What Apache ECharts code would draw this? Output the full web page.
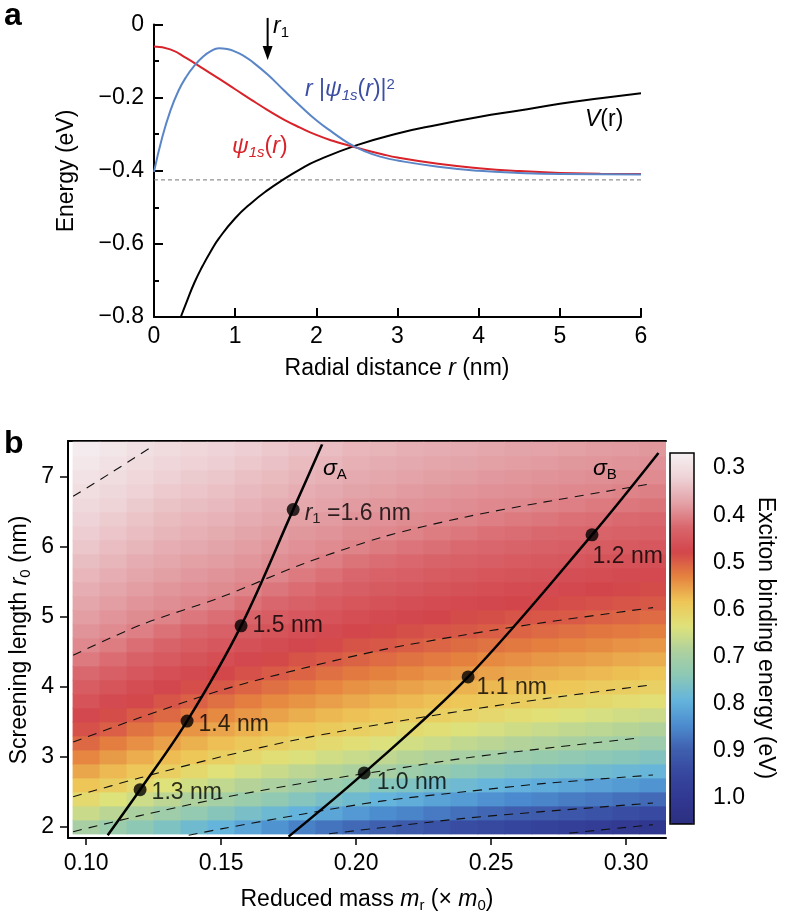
<!DOCTYPE html>
<html>
<head>
<meta charset="utf-8">
<script src="https://cdn.jsdelivr.net/npm/echarts@6/dist/echarts.min.js"></script>
<style>
  html, body { margin: 0; padding: 0; background: #fff; }
  #main { width: 786px; height: 919px; }
</style>
</head>
<body>
<div id="main"></div>
<script>
// ---------- panel a : radial curves ----------
var radialPsiSq = [[0,-0.403],[0.1,-0.31],[0.2,-0.237],[0.3,-0.182],[0.4,-0.142],[0.5,-0.112],[0.6,-0.089],[0.7,-0.073],[0.8,-0.065],[0.9,-0.067],[1.0,-0.074],[1.1,-0.085],[1.2,-0.1],[1.4,-0.137],[1.6,-0.18],[1.8,-0.222],[2.0,-0.262],[2.2,-0.295],[2.4,-0.325],[2.6,-0.347],[2.8,-0.362],[3.0,-0.372],[3.5,-0.389],[4.0,-0.4],[4.5,-0.406],[5.0,-0.409],[6.0,-0.41]];
var radialPsi = [[0,-0.06],[0.2,-0.068],[0.4,-0.092],[0.6,-0.12],[0.8,-0.148],[1.0,-0.177],[1.2,-0.206],[1.4,-0.234],[1.6,-0.26],[1.8,-0.282],[2.0,-0.302],[2.2,-0.318],[2.4,-0.331],[2.6,-0.343],[2.8,-0.354],[3.0,-0.364],[3.5,-0.381],[4.0,-0.393],[4.5,-0.401],[5.0,-0.406],[5.5,-0.408],[6.0,-0.409]];
var potentialV = [[0.33,-0.80],[0.4,-0.76],[0.5,-0.705],[0.6,-0.66],[0.7,-0.62],[0.8,-0.585],[1.0,-0.53],[1.2,-0.488],[1.4,-0.453],[1.6,-0.423],[1.8,-0.396],[2.0,-0.373],[2.5,-0.33],[3.0,-0.298],[3.5,-0.274],[4.0,-0.253],[4.5,-0.235],[5.0,-0.217],[5.5,-0.202],[6.0,-0.188]];
var levelLine = [[0,-0.425],[6,-0.425]];
var r1Mark = 1.4;

// ---------- panel b : binding energy map ----------
var massCols = [0.10,0.11,0.12,0.13,0.14,0.15,0.16,0.17,0.18,0.19,0.20,0.21,0.22,0.23,0.24,0.25,0.26,0.27,0.28,0.29,0.30,0.31];
var r0Rows = [2.0,2.2,2.4,2.6,2.8,3.0,3.2,3.4,3.6,3.8,4.0,4.2,4.4,4.6,4.8,5.0,5.2,5.4,5.6,5.8,6.0,6.2,6.4,6.6,6.8,7.0,7.2,7.4];
// one list per mass column, values from r0 = 2.0 up to 7.4
var energyCols = [
  [0.70,0.66,0.62,0.585,0.56,0.535,0.51,0.49,0.474,0.458,0.442,0.426,0.41,0.397,0.388,0.379,0.371,0.362,0.353,0.345,0.336,0.328,0.319,0.31,0.302,0.294,0.286,0.278],
  [0.718,0.675,0.637,0.599,0.575,0.551,0.527,0.502,0.486,0.47,0.455,0.439,0.423,0.408,0.396,0.387,0.379,0.371,0.362,0.354,0.346,0.337,0.329,0.321,0.312,0.304,0.296,0.288],
  [0.739,0.693,0.656,0.619,0.588,0.565,0.542,0.519,0.497,0.482,0.467,0.452,0.436,0.421,0.406,0.395,0.387,0.379,0.371,0.363,0.354,0.346,0.338,0.33,0.322,0.314,0.306,0.298],
  [0.758,0.712,0.673,0.636,0.60,0.578,0.555,0.533,0.51,0.492,0.477,0.462,0.447,0.432,0.417,0.402,0.393,0.386,0.378,0.37,0.362,0.354,0.347,0.339,0.331,0.323,0.315,0.307],
  [0.777,0.73,0.688,0.653,0.618,0.589,0.568,0.546,0.525,0.503,0.487,0.472,0.457,0.443,0.428,0.413,0.399,0.391,0.383,0.376,0.368,0.36,0.353,0.345,0.337,0.33,0.322,0.314],
  [0.793,0.748,0.702,0.668,0.634,0.60,0.579,0.558,0.537,0.516,0.496,0.481,0.466,0.451,0.436,0.421,0.406,0.395,0.388,0.38,0.373,0.365,0.357,0.35,0.342,0.335,0.327,0.319],
  [0.814,0.764,0.718,0.681,0.648,0.616,0.59,0.569,0.548,0.527,0.506,0.49,0.475,0.461,0.446,0.431,0.417,0.402,0.394,0.386,0.379,0.372,0.364,0.357,0.349,0.342,0.334,0.327],
  [0.837,0.78,0.734,0.692,0.66,0.629,0.598,0.578,0.557,0.537,0.516,0.497,0.483,0.469,0.456,0.442,0.428,0.414,0.40,0.393,0.385,0.378,0.37,0.363,0.356,0.348,0.341,0.333],
  [0.858,0.795,0.75,0.705,0.672,0.641,0.609,0.586,0.566,0.546,0.526,0.506,0.491,0.477,0.464,0.45,0.437,0.423,0.41,0.398,0.391,0.384,0.377,0.369,0.362,0.355,0.348,0.341],
  [0.873,0.812,0.764,0.718,0.682,0.651,0.62,0.593,0.574,0.554,0.535,0.516,0.497,0.484,0.471,0.458,0.445,0.432,0.419,0.406,0.396,0.389,0.382,0.375,0.368,0.36,0.353,0.346],
  [0.886,0.829,0.777,0.732,0.691,0.661,0.63,0.60,0.581,0.562,0.543,0.524,0.505,0.491,0.478,0.466,0.453,0.441,0.428,0.416,0.403,0.395,0.388,0.381,0.374,0.367,0.36,0.353],
  [0.897,0.845,0.793,0.747,0.70,0.67,0.64,0.61,0.588,0.569,0.55,0.531,0.512,0.496,0.483,0.471,0.459,0.446,0.434,0.422,0.409,0.398,0.391,0.384,0.377,0.37,0.363,0.356],
  [0.91,0.855,0.803,0.758,0.713,0.679,0.65,0.621,0.594,0.575,0.557,0.538,0.519,0.50,0.488,0.476,0.464,0.452,0.439,0.427,0.415,0.403,0.395,0.388,0.381,0.375,0.368,0.361],
  [0.923,0.867,0.815,0.77,0.726,0.688,0.659,0.629,0.60,0.581,0.563,0.544,0.525,0.507,0.492,0.48,0.468,0.456,0.444,0.432,0.42,0.408,0.398,0.391,0.384,0.378,0.371,0.364],
  [0.936,0.879,0.826,0.779,0.738,0.697,0.668,0.638,0.609,0.587,0.569,0.55,0.531,0.513,0.496,0.485,0.473,0.461,0.449,0.437,0.425,0.413,0.401,0.394,0.387,0.38,0.373,0.367],
  [0.947,0.89,0.838,0.79,0.748,0.706,0.675,0.646,0.617,0.593,0.574,0.556,0.537,0.519,0.50,0.488,0.476,0.465,0.453,0.441,0.429,0.418,0.406,0.397,0.39,0.383,0.377,0.37],
  [0.956,0.898,0.848,0.798,0.757,0.716,0.683,0.654,0.625,0.597,0.579,0.561,0.542,0.524,0.506,0.492,0.48,0.468,0.457,0.445,0.433,0.422,0.41,0.399,0.392,0.386,0.379,0.373],
  [0.965,0.906,0.855,0.805,0.764,0.724,0.689,0.661,0.632,0.604,0.584,0.566,0.548,0.529,0.511,0.495,0.484,0.472,0.46,0.449,0.437,0.426,0.414,0.402,0.395,0.388,0.382,0.375],
  [0.974,0.915,0.863,0.813,0.771,0.733,0.696,0.668,0.639,0.611,0.589,0.571,0.552,0.534,0.516,0.498,0.487,0.475,0.464,0.452,0.441,0.429,0.418,0.406,0.397,0.39,0.384,0.377],
  [0.985,0.924,0.87,0.82,0.777,0.74,0.702,0.674,0.646,0.618,0.594,0.575,0.557,0.539,0.521,0.503,0.49,0.479,0.467,0.456,0.444,0.433,0.421,0.41,0.399,0.393,0.386,0.38],
  [0.997,0.934,0.878,0.828,0.783,0.746,0.709,0.679,0.652,0.625,0.598,0.58,0.562,0.544,0.525,0.507,0.493,0.482,0.47,0.459,0.447,0.436,0.425,0.413,0.402,0.395,0.388,0.382],
  [1.01,0.945,0.885,0.835,0.789,0.753,0.716,0.685,0.658,0.631,0.604,0.585,0.566,0.548,0.53,0.512,0.496,0.485,0.473,0.462,0.451,0.439,0.428,0.416,0.405,0.396,0.39,0.384]
];
// dashed iso-energy lines (mass, r0)
var contour03 = [[0.0952,6.72],[0.109,7.05],[0.124,7.42]];
var contour04 = [[0.0952,4.45],[0.12,4.88],[0.15,5.28],[0.18,5.75],[0.21,6.14],[0.24,6.42],[0.27,6.64],[0.308,6.89]];
var contour05 = [[0.0952,3.21],[0.12,3.56],[0.15,3.95],[0.18,4.26],[0.21,4.53],[0.24,4.74],[0.27,4.92],[0.31,5.13]];
var contour06 = [[0.0952,2.43],[0.12,2.70],[0.15,3.0],[0.18,3.26],[0.21,3.47],[0.24,3.66],[0.27,3.83],[0.31,4.03]];
var contour07 = [[0.0952,1.93],[0.12,2.16],[0.15,2.41],[0.18,2.62],[0.21,2.80],[0.24,2.98],[0.27,3.12],[0.305,3.27]];
var contour08 = [[0.138,1.88],[0.15,1.97],[0.18,2.18],[0.21,2.37],[0.24,2.50],[0.27,2.62],[0.31,2.74]];
var contour09 = [[0.19,1.9],[0.21,1.99],[0.24,2.12],[0.27,2.22],[0.31,2.34]];
var contour10 = [[0.279,1.91],[0.31,2.03]];
// sigma A / sigma B paths and marked r1 points
var sigmaAPath = [[0.108,1.88],[0.120,2.53],[0.1374,3.51],[0.1574,4.87],[0.1767,6.53],[0.1874,7.46]];
var sigmaBPath = [[0.175,1.86],[0.203,2.77],[0.2415,4.14],[0.2874,6.17],[0.312,7.34]];
var sigmaAPts = [[0.120,2.53],[0.1374,3.51],[0.1574,4.87],[0.1767,6.53]];
var sigmaALabels = ['1.3 nm','1.4 nm','1.5 nm','{i|r}{sub|1} =1.6 nm'];
var sigmaBPts = [[0.203,2.77],[0.2415,4.14],[0.2874,6.17]];
var sigmaBLabels = ['1.0 nm','1.1 nm','1.2 nm'];
var cbTicks = [0.3,0.4,0.5,0.6,0.7,0.8,0.9,1.0];
var massTicks = [0.10,0.15,0.20,0.25,0.30];
var r0Ticks = [2,3,4,5,6,7];

var FONT = 'Liberation Sans, Arial, Helvetica, sans-serif';
var richStyles = {
  i: { fontStyle: 'italic', fontSize: 23, fontFamily: FONT, lineHeight: 26, verticalAlign: 'middle' },
  n: { fontSize: 23, fontFamily: FONT, lineHeight: 26, verticalAlign: 'middle' },
  sub: { fontSize: 15, fontFamily: FONT, lineHeight: 13, verticalAlign: 'bottom' },
  isub: { fontSize: 15, fontStyle: 'italic', fontFamily: FONT, lineHeight: 13, verticalAlign: 'bottom' },
  sup: { fontSize: 15, fontFamily: FONT, lineHeight: 14, verticalAlign: 'top' }
};

var heatData = [];
massCols.forEach(function (m, i) {
  r0Rows.forEach(function (r, j) { heatData.push([m, r, energyCols[i][j]]); });
});
var halfW = (massCols[1] - massCols[0]) / 2;
var halfH = (r0Rows[1] - r0Rows[0]) / 2;

function minus(v) { return v === 0 ? '0' : v.toFixed(1).replace('-', '\u2212'); }

var chart = echarts.init(document.getElementById('main'), null, { renderer: 'canvas' });

function contourSeries(d) {
  return {
    type: 'line', xAxisIndex: 1, yAxisIndex: 1, data: d, smooth: 0.3, showSymbol: false,
    lineStyle: { color: '#111', width: 1.1, type: [9, 7] }, z: 5, silent: true
  };
}
function labelled(pts, labels, offsets) {
  return pts.map(function (p, k) {
    return { value: p, label: { formatter: labels[k], offset: offsets[k] } };
  });
}

var option = {
  animation: false,
  backgroundColor: '#fff',
  textStyle: { fontFamily: FONT },
  grid: [
    { left: 154, top: 24.5, width: 487, height: 292.5 },
    { left: 68, top: 441, width: 598, height: 397 },
    { left: 670, top: 453, width: 24, height: 371 }
  ],
  xAxis: [
    { type: 'value', gridIndex: 0, min: 0, max: 6, interval: 1,
      axisLine: { onZero: false, lineStyle: { color: '#000', width: 2 } },
      axisTick: { inside: true, length: 9, lineStyle: { color: '#000', width: 2 } },
      axisLabel: { color: '#000', fontSize: 23, margin: 8 },
      splitLine: { show: false } },
    { type: 'value', gridIndex: 1, min: 0.0933, max: 0.3148,
      axisLine: { onZero: false, lineStyle: { color: '#000', width: 2 } },
      axisTick: { customValues: massTicks, length: 7, lineStyle: { color: '#000', width: 1.5 } },
      axisLabel: { customValues: massTicks, color: '#000', fontSize: 23, margin: 14,
        formatter: function (v) { return v.toFixed(2); } },
      splitLine: { show: false } },
    { type: 'value', gridIndex: 1, position: 'top', min: 0.0933, max: 0.3148,
      axisLine: { onZero: false, lineStyle: { color: '#000', width: 2 } },
      axisTick: { show: false }, axisLabel: { show: false }, splitLine: { show: false } },
    { type: 'value', gridIndex: 2, show: false, min: 0, max: 1 }
  ],
  yAxis: [
    { type: 'value', gridIndex: 0, min: -0.8, max: 0, interval: 0.2,
      axisLine: { show: true, onZero: false, lineStyle: { color: '#000', width: 2 } },
      axisTick: { inside: true, length: 9, lineStyle: { color: '#000', width: 2 } },
      minorTick: { show: true, splitNumber: 2, length: 5, lineStyle: { color: '#000', width: 2 } },
      axisLabel: { color: '#000', fontSize: 23, margin: 10, formatter: minus },
      splitLine: { show: false } },
    { type: 'value', gridIndex: 1, min: 1.84, max: 7.51,
      axisLine: { show: true, onZero: false, lineStyle: { color: '#000', width: 2 } },
      axisTick: { customValues: r0Ticks, length: 8, lineStyle: { color: '#000', width: 1.5 } },
      axisLabel: { customValues: r0Ticks, color: '#000', fontSize: 23, margin: 14 },
      splitLine: { show: false } },
    { type: 'value', gridIndex: 2, position: 'right', min: 0.268, max: 1.055, inverse: true,
      axisLine: { show: false },
      axisTick: { customValues: cbTicks, length: 9, lineStyle: { color: '#000', width: 1.5 } },
      axisLabel: { customValues: cbTicks, color: '#000', fontSize: 23, margin: 19,
        formatter: function (v) { return v.toFixed(1); } },
      splitLine: { show: false } },
    { type: 'value', gridIndex: 2, position: 'right', min: 0.268, max: 1.055, inverse: true,
      axisLine: { show: false },
      axisTick: { customValues: cbTicks, inside: true, length: 14, lineStyle: { color: '#000', width: 1.5 } },
      axisLabel: { show: false }, splitLine: { show: false } }
  ],
  visualMap: {
    type: 'continuous', seriesIndex: 4, dimension: 2,
    min: 0.27, max: 1.055, inverse: true, orient: 'vertical',
    left: 670, top: 453, itemWidth: 24, itemHeight: 371, padding: 0,
    calculable: false, hoverLink: false, showLabel: false, text: null,
    inRange: { color: ['#f5f0f2','#eed2d6','#e3a3a8','#d9676d','#d2454b','#e5823f','#eec556','#dfe27a','#aed19e','#8cc8b6','#64b4dc','#4c8ccf','#3f5fae','#36469e','#313891','#2c2f80'] }
  },
  series: [
    { type: 'line', xAxisIndex: 0, yAxisIndex: 0, data: levelLine, showSymbol: false,
      lineStyle: { color: '#777', width: 1, type: [4, 3] }, z: 1 },
    { type: 'line', xAxisIndex: 0, yAxisIndex: 0, data: potentialV, smooth: true, showSymbol: false,
      lineStyle: { color: '#000', width: 2 }, z: 2 },
    { type: 'line', xAxisIndex: 0, yAxisIndex: 0, data: radialPsi, smooth: true, showSymbol: false,
      lineStyle: { color: '#d8232a', width: 2 }, z: 3 },
    { type: 'line', xAxisIndex: 0, yAxisIndex: 0, data: radialPsiSq, smooth: true, showSymbol: false,
      lineStyle: { color: '#5a86c8', width: 2 }, z: 3 },
    { type: 'custom', xAxisIndex: 1, yAxisIndex: 1, data: heatData, dimensions: ['m', 'r0', 'E'],
      encode: { x: 0, y: 1 }, clip: true, silent: true, z: 1,
      renderItem: function (params, api) {
        var m = api.value(0), r = api.value(1);
        var a = api.coord([m - halfW, r + halfH]);
        var b = api.coord([m + halfW, r - halfH]);
        return { type: 'rect',
          shape: { x: a[0], y: a[1], width: b[0] - a[0] + 0.6, height: b[1] - a[1] + 0.6 },
          style: { fill: api.visual('color') } };
      } },
    contourSeries(contour03), contourSeries(contour04), contourSeries(contour05), contourSeries(contour06),
    contourSeries(contour07), contourSeries(contour08), contourSeries(contour09), contourSeries(contour10),
    { type: 'line', xAxisIndex: 1, yAxisIndex: 1, data: sigmaAPath, smooth: 0.35, showSymbol: false,
      lineStyle: { color: '#000', width: 2.5 }, z: 6 },
    { type: 'line', xAxisIndex: 1, yAxisIndex: 1, data: sigmaBPath, smooth: 0.35, showSymbol: false,
      lineStyle: { color: '#000', width: 2.5 }, z: 6 },
    { type: 'scatter', xAxisIndex: 1, yAxisIndex: 1, symbolSize: 13, itemStyle: { color: '#000' }, z: 7,
      label: { show: true, position: 'right', distance: 5, color: '#000', fontSize: 23, rich: richStyles },
      data: labelled(sigmaAPts, sigmaALabels, [[0, 3], [0, 4], [0, 0], [0, 4]]) },
    { type: 'scatter', xAxisIndex: 1, yAxisIndex: 1, symbolSize: 13, itemStyle: { color: '#000' }, z: 7,
      label: { show: true, position: 'right', distance: 5, color: '#000', fontSize: 23, rich: richStyles },
      data: labelled(sigmaBPts, sigmaBLabels, [[1, 10], [-3, 11], [-11, 22]]) }
  ]
};
chart.setOption(option);

// annotations
var top0 = chart.convertToPixel({ gridIndex: 0 }, [r1Mark, 0.018]);
var tip0 = chart.convertToPixel({ gridIndex: 0 }, [r1Mark, -0.097]);

function colorRich(c) {
  var out = {};
  Object.keys(richStyles).forEach(function (k) {
    out[k] = Object.assign({}, richStyles[k], { fill: c });
  });
  return out;
}
function txt(x, y, text, opts) {
  var o = opts || {};
  var c = o.color || '#000';
  return { type: 'text', x: x, y: y, rotation: o.rot || 0, z: 20, silent: true,
    style: { text: text, rich: colorRich(c), fill: c, fontSize: o.size || 23,
      fontFamily: FONT, fontWeight: o.weight || 'normal',
      align: o.align || 'left', verticalAlign: 'middle' } };
}

chart.setOption({
  graphic: [
    { type: 'line', z: 20, silent: true,
      shape: { x1: top0[0], y1: top0[1], x2: tip0[0], y2: tip0[1] - 10 },
      style: { stroke: '#000', lineWidth: 2 } },
    { type: 'polygon', z: 20, silent: true,
      shape: { points: [[tip0[0] - 5, tip0[1] - 14], [tip0[0] + 5, tip0[1] - 14], [tip0[0], tip0[1]]] },
      style: { fill: '#000' } },
    txt(273, 27, '{i|r}{sub|1}'),
    txt(305, 90, '{i|r} {n||}{i|\u03c8}{isub|1s}{n|(}{i|r}{n|)|}{sup|2}', { color: '#3c4ea3' }),
    txt(232, 147, '{i|\u03c8}{isub|1s}{n|(}{i|r}{n|)}', { color: '#d8232a' }),
    txt(585, 120, '{i|V}{n|(r)}'),
    txt(323, 469, '{i|\u03c3}{sub|A}'),
    txt(593, 469, '{i|\u03c3}{sub|B}'),
    txt(67, 171, 'Energy (eV)', { rot: Math.PI / 2, align: 'center' }),
    txt(397, 369, '{n|Radial distance }{i|r}{n| (nm)}', { align: 'center' }),
    txt(20, 640, '{n|Screening length }{i|r}{sub|0}{n| (nm)}', { rot: Math.PI / 2, align: 'center' }),
    txt(367, 900, '{n|Reduced mass }{i|m}{sub|r}{n| (\u00d7 }{i|m}{sub|0}{n|)}', { align: 'center' }),
    txt(765, 638, 'Exciton binding energy (eV)', { rot: -Math.PI / 2, align: 'center' }),
    txt(4, 16, 'a', { size: 32, weight: 'bold' }),
    txt(4, 444, 'b', { size: 32, weight: 'bold' }),
    { type: 'rect', z: 20, silent: true, shape: { x: 670, y: 453, width: 24, height: 371 },
      style: { fill: 'none', stroke: '#000', lineWidth: 1.5 } }
  ]
});
</script>
</body>
</html>
